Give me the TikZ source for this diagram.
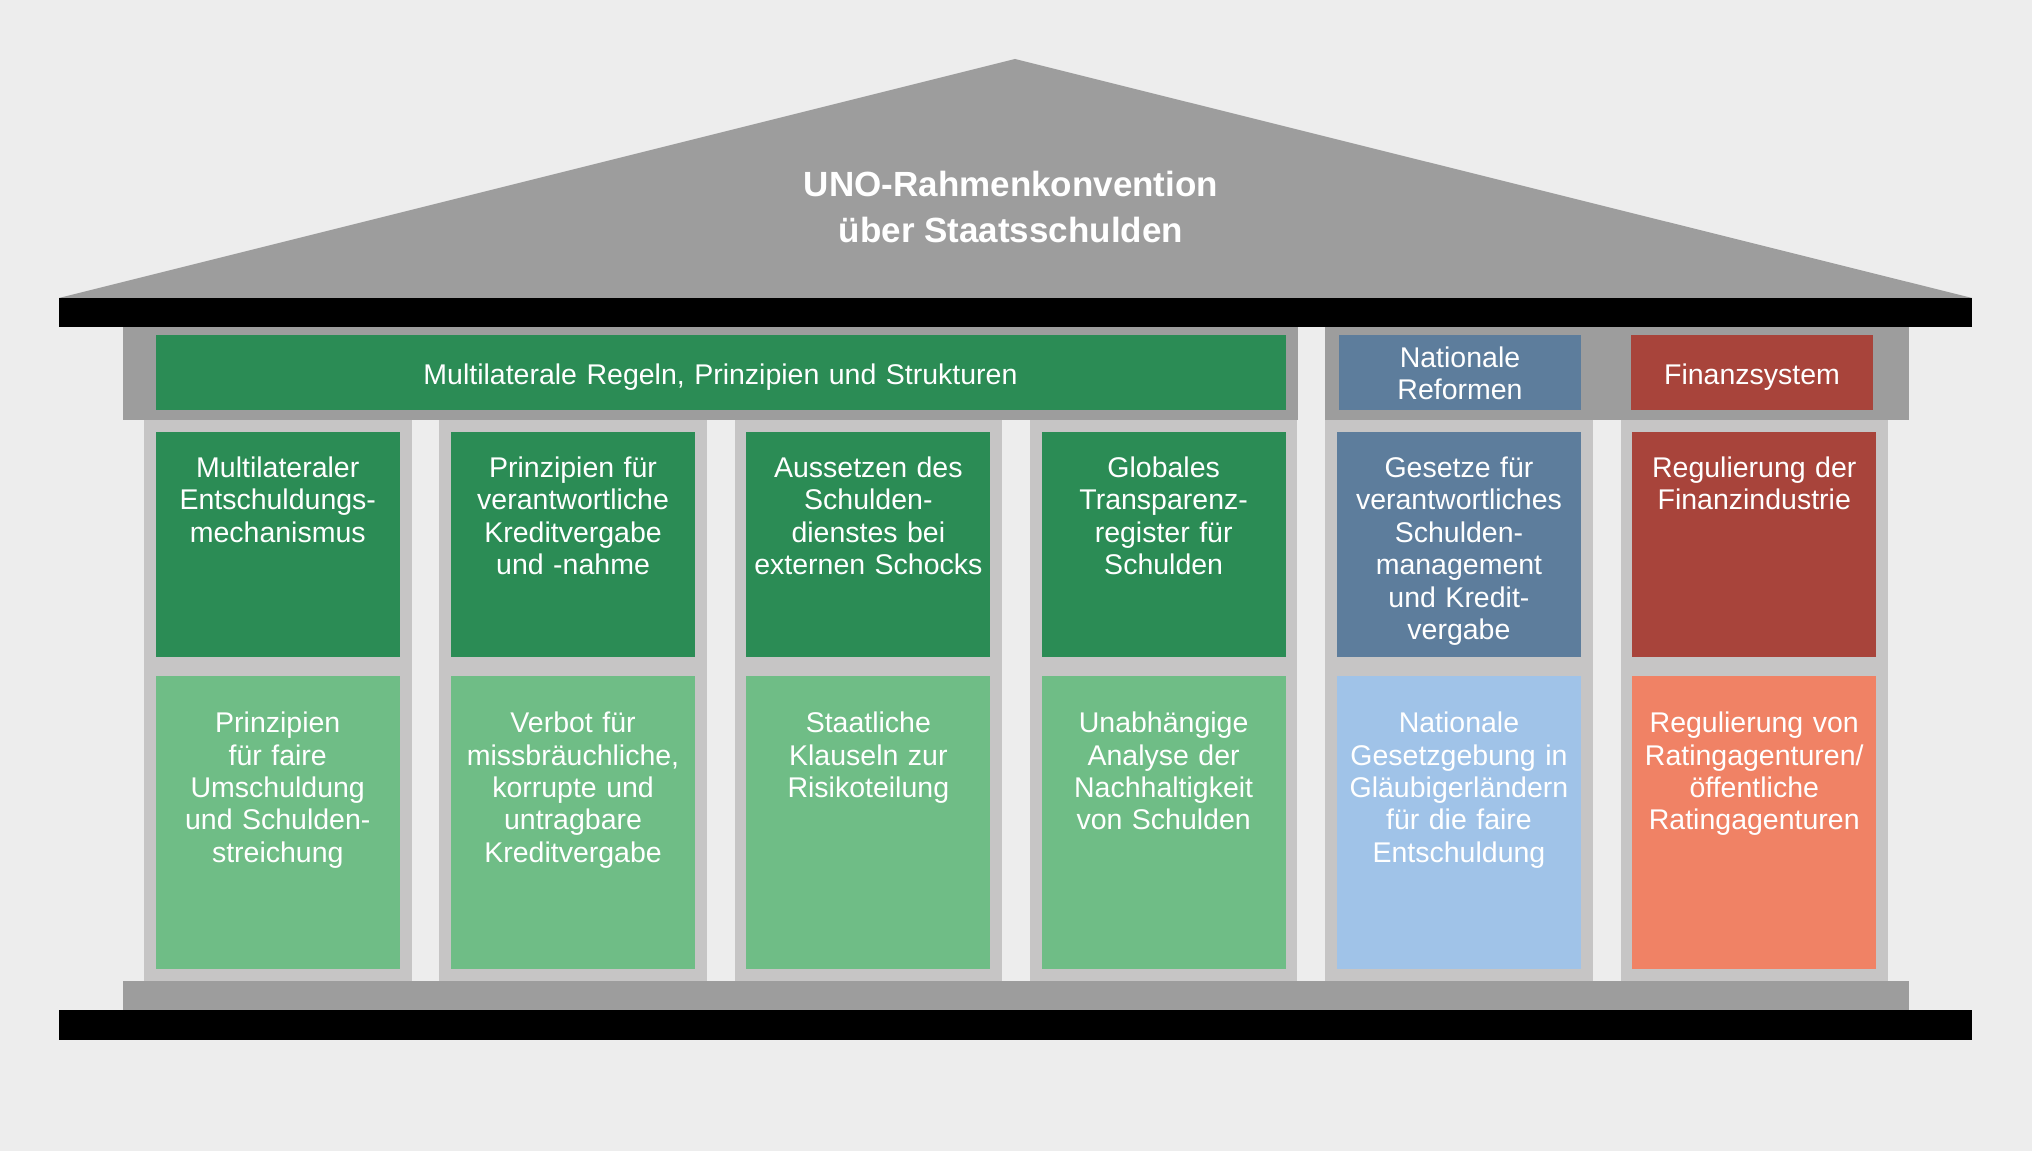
\documentclass[tikz,border=0pt]{standalone}
\usepackage{fontspec}
\setmainfont{Liberation Sans}
\usepackage{xcolor}
\usetikzlibrary{positioning}

\definecolor{bgcol}{HTML}{EDEDED}
\definecolor{roofcol}{HTML}{9D9D9D}
\definecolor{pillarcol}{HTML}{C6C5C5}
\definecolor{darkgreen}{HTML}{2B8C55}
\definecolor{lightgreen}{HTML}{6FBD86}
\definecolor{natblue}{HTML}{5D7D9C}
\definecolor{lightblue}{HTML}{A0C3E8}
\definecolor{finred}{HTML}{A8443B}
\definecolor{salmon}{HTML}{F08265}

\newcommand{\bodyfont}{\fontsize{28.5}{32.4}\selectfont}
\newcommand{\titlefont}{\fontsize{35}{46.3}\selectfont\bfseries}

\begin{document}
\begin{tikzpicture}[x=1pt,y=1pt,node distance=295.3pt,
        pillar/.style={rectangle,fill=pillarcol,inner sep=0pt,minimum width=267.5pt,minimum height=561pt},
        darkbox/.style={rectangle,fill=darkgreen,inner sep=0pt,minimum width=244pt,minimum height=225pt},
        lightbox/.style={rectangle,fill=lightgreen,inner sep=0pt,minimum width=244pt,minimum height=293pt},
        headbox/.style={rectangle,fill=darkgreen,inner sep=0pt,minimum height=75pt},
        boxtext/.style={anchor=base,inner sep=0pt,text width=244pt,align=center,text=white,font=\bodyfont}]

        \fill[bgcol] (0,0) rectangle (2032,1151);

        % roof, beams and base
        \fill[roofcol] (59,853) -- (1015,1092) -- (1972,853) -- cycle;
        \fill[black] (59,823.5) rectangle (1972,853);
        \fill[roofcol] (122.5,731) rectangle (1297.5,823.5);
        \fill[roofcol] (1324.5,731) rectangle (1909,823.5);
        \fill[roofcol] (122.5,141) rectangle (1909,170);
        \fill[black] (59,111) rectangle (1972,141);

        \node[text=white,font=\titlefont,align=center,inner sep=0pt] (title) at (1011,944)
            {UNO-Rahmenkonvention\\ über Staatsschulden};

        \node[headbox,minimum width=1130pt] (h1) at (720.5,778) {};
        \node[headbox,fill=natblue,minimum width=242pt] (h2) at (1460,778) {};
        \node[headbox,fill=finred,minimum width=241.5pt] (h3) at (1752,778) {};

        \node[boxtext,text width=1130pt] (ht1) at ([yshift=-11.3pt]h1.center) {Multilaterale Regeln, Prinzipien und Strukturen};
        \node[boxtext] (ht2) at ([yshift=5.5pt]h2.center) {Nationale\\ Reformen};
        \node[boxtext] (ht3) at ([yshift=-11.3pt]h3.center) {Finanzsystem};

        % pillars
        \node[pillar] (c1) at (277.75,450.5) {};
        \node[pillar] (c2) [right of=c1] {};
        \node[pillar] (c3) [right of=c2] {};
        \node[pillar] (c4) [right of=c3] {};
        \node[pillar] (c5) [right of=c4] {};
        \node[pillar] (c6) [right of=c5] {};

        \node[darkbox] (d1) at (277.75,606.5) {};
        \node[darkbox] (d2) [right of=d1] {};
        \node[darkbox] (d3) [right of=d2] {};
        \node[darkbox] (d4) [right of=d3] {};
        \node[darkbox, fill=natblue] (d5) [right of=d4] {};
        \node[darkbox, fill=finred] (d6) [right of=d5] {};

        \node[lightbox] (l1) at (277.75,328.5) {};
        \node[lightbox] (l2) [right of=l1] {};
        \node[lightbox] (l3) [right of=l2] {};
        \node[lightbox] (l4) [right of=l3] {};
        \node[lightbox, fill=lightblue] (l5) [right of=l4] {};
        \node[lightbox, fill=salmon] (l6) [right of=l5] {};

        \node[boxtext] (dt1) at ([yshift=-45.7pt]d1.north) {Multilateraler\\ Entschuldungs-\\ mechanismus};
        \node[boxtext] (dt2) at ([yshift=-45.7pt]d2.north) {Prinzipien für\\ verantwortliche\\ Kreditvergabe\\ und -nahme};
        \node[boxtext] (dt3) at ([yshift=-45.7pt]d3.north) {Aussetzen des\\ Schulden-\\ dienstes bei\\ externen Schocks};
        \node[boxtext] (dt4) at ([yshift=-45.7pt]d4.north) {Globales\\ Transparenz-\\ register für\\ Schulden};
        \node[boxtext] (dt5) at ([yshift=-45.7pt]d5.north) {Gesetze für\\ verantwortliches\\ Schulden-\\ management\\ und Kredit-\\ vergabe};
        \node[boxtext] (dt6) at ([yshift=-45.7pt]d6.north) {Regulierung der\\ Finanzindustrie};

        \node[boxtext] (lt1) at ([yshift=-57pt]l1.north) {Prinzipien\\ für faire\\ Umschuldung\\ und Schulden-\\ streichung};
        \node[boxtext] (lt2) at ([yshift=-57pt]l2.north) {Verbot für\\ missbräuchliche,\\ korrupte und\\ untragbare\\ Kreditvergabe};
        \node[boxtext] (lt3) at ([yshift=-57pt]l3.north) {Staatliche\\ Klauseln zur\\ Risikoteilung};
        \node[boxtext] (lt4) at ([yshift=-57pt]l4.north) {Unabhängige\\ Analyse der\\ Nachhaltigkeit\\ von Schulden};
        \node[boxtext] (lt5) at ([yshift=-57pt]l5.north) {Nationale\\ Gesetzgebung in\\ Gläubigerländern\\ für die faire\\ Entschuldung};
        \node[boxtext] (lt6) at ([yshift=-57pt]l6.north) {Regulierung von\\ Ratingagenturen/\\ öffentliche\\ Ratingagenturen};
\end{tikzpicture}
\end{document}
